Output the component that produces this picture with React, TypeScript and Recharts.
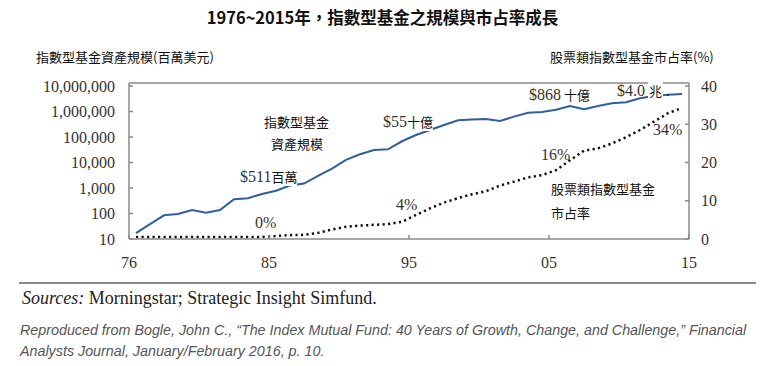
import { LineChart, Line, XAxis, YAxis, ReferenceLine } from "recharts";

const YEARS = [
  1976, 1977, 1978, 1979, 1980, 1981, 1982, 1983, 1984, 1985,
  1986, 1987, 1988, 1989, 1990, 1991, 1992, 1993, 1994, 1995,
  1996, 1997, 1998, 1999, 2000, 2001, 2002, 2003, 2004, 2005,
  2006, 2007, 2008, 2009, 2010, 2011, 2012, 2013, 2014, 2015,
];

// 指數型基金資產規模 (百萬美元)
const ASSETS = [
  17, 38, 85, 96, 137, 108, 137, 360, 400, 580,
  780, 1250, 1500, 3000, 5800, 12600, 21000, 31000, 33000, 68000,
  120000, 187000, 295000, 450000, 490000, 510000, 425000, 630000, 895000, 950000,
  1170000, 1650000, 1240000, 1650000, 2100000, 2300000, 3300000, 4050000, 4550000, 4900000,
];

// 股票類指數型基金市占率 (%)
const SHARE = [
  0.5, 0.5, 0.5, 0.5, 0.5, 0.5, 0.5, 0.5, 0.5, 0.5,
  0.8, 1.0, 1.1, 1.6, 2.5, 3.2, 3.5, 3.7, 3.9, 4.5,
  6.3, 8.0, 9.5, 10.7, 11.7, 12.5, 14.0, 15.0, 16.1, 16.7,
  18.0, 20.6, 23.1, 23.7, 25.0, 26.6, 28.5, 30.7, 32.9, 34.3,
];

const X_TICKS = [1975.5, 1985.5, 1995.5, 2005.5, 2015.5];
const X_TICK_LABELS = ["76", "85", "95", "05", "15"];
const LEFT_TICKS = [10, 100, 1000, 10000, 100000, 1000000, 10000000];
const RIGHT_TICKS = [0, 10, 20, 30, 40];

const BLUE = "#2f5f9f";
const FRAME = "#8a8a8a";
const SERIF = "'Liberation Serif', 'DejaVu Serif', serif";
const CJK = "'Noto Sans CJK TC', 'Noto Sans', sans-serif";
const TICK = { fill: "#333", fontSize: 16, fontFamily: SERIF };

const data = YEARS.map((year, i) => ({ year, assets: ASSETS[i], share: SHARE[i] }));

function Note({ x, y, children, bg = false, size = 13, font = CJK }: any) {
  return (
    <div
      style={{
        position: "absolute",
        left: x,
        top: y - 9,
        height: 18,
        lineHeight: "18px",
        fontSize: size,
        fontFamily: font,
        color: "#111",
        background: bg ? "#fff" : "transparent",
        whiteSpace: "nowrap",
      }}
    >
      {children}
    </div>
  );
}

const Serif = ({ children }: any) => (
  <span style={{ fontFamily: SERIF, fontSize: 16, color: "#333" }}>{children}</span>
);

export default function App() {
  return (
    <div
      style={{
        position: "absolute",
        left: 0,
        top: 0,
        width: 765,
        height: 366,
        background: "#fff",
        overflow: "hidden",
      }}
    >
      <div
        style={{
          position: "absolute",
          left: 0,
          width: 765,
          top: 6,
          textAlign: "center",
          fontFamily: CJK,
          fontWeight: 700,
          fontSize: 16.5,
          lineHeight: "22px",
          color: "#111",
        }}
      >
        1976~2015年，指數型基金之規模與市占率成長
      </div>

      <LineChart
        width={765}
        height={280}
        data={data}
        margin={{ top: 83, right: 0, bottom: 11, left: 0 }}
        style={{ position: "absolute", left: 0, top: 0 }}
      >
        <XAxis
          dataKey="year"
          type="number"
          domain={[1975.5, 2015.5]}
          ticks={X_TICKS}
          tickFormatter={(v: number) => X_TICK_LABELS[X_TICKS.indexOf(v)]}
          height={30}
          axisLine={{ stroke: FRAME, strokeWidth: 1.5 }}
          tickLine={{ stroke: FRAME, strokeWidth: 1.5 }}
          tickSize={-4}
          tickMargin={21.5}
          tick={TICK}
          interval={0}
        />
        <YAxis
          yAxisId="left"
          scale="log"
          type="number"
          domain={[10, 13100000]}
          allowDataOverflow
          ticks={LEFT_TICKS}
          tickFormatter={(v: number) => v.toLocaleString("en-US")}
          width={129}
          axisLine={{ stroke: FRAME, strokeWidth: 1.5 }}
          tickLine={{ stroke: FRAME, strokeWidth: 1.5 }}
          tickSize={-4}
          tickMargin={18}
          tick={TICK}
          interval={0}
        />
        <YAxis
          yAxisId="right"
          orientation="right"
          type="number"
          domain={[0, 40.8]}
          allowDataOverflow
          ticks={RIGHT_TICKS}
          width={76}
          axisLine={{ stroke: FRAME, strokeWidth: 1.5 }}
          tickLine={{ stroke: FRAME, strokeWidth: 1.5 }}
          tickSize={-4}
          tickMargin={16}
          tick={{ ...TICK, textAnchor: "start" }}
          interval={0}
        />
        <ReferenceLine yAxisId="right" y={40.8} stroke={FRAME} strokeWidth={1.5} />
        <Line
          yAxisId="right"
          dataKey="share"
          type="linear"
          stroke="#111"
          strokeWidth={2.5}
          strokeDasharray="2.2 3.3"
          dot={false}
          isAnimationActive={false}
        />
        <Line
          yAxisId="left"
          dataKey="assets"
          type="linear"
          stroke={BLUE}
          strokeWidth={2}
          dot={false}
          isAnimationActive={false}
        />
      </LineChart>

      <Note x={36} y={57}>指數型基金資產規模(百萬美元)</Note>
      <Note x={550} y={57}>股票類指數型基金市占率(%)</Note>

      <Note x={264} y={122}>指數型基金</Note>
      <Note x={271} y={144}>資產規模</Note>
      <Note x={551} y={189}>股票類指數型基金</Note>
      <Note x={551} y={213}>市占率</Note>

      <Note x={240} y={177} bg>
        <Serif>$511</Serif>百萬
      </Note>
      <Note x={383} y={122} bg>
        <Serif>$55</Serif>十億
      </Note>
      <Note x={529} y={95}>
        <Serif>$868</Serif> 十億
      </Note>
      <Note x={617} y={91}>
        <Serif>$4.0</Serif>
        <span style={{ background: "#fff", marginLeft: 3, padding: "0 1px" }}>兆</span>
        <span> .</span>
      </Note>

      <Note x={255} y={223} font={SERIF} size={16}>
        <Serif>0%</Serif>
      </Note>
      <Note x={396} y={205} font={SERIF} size={16}>
        <Serif>4%</Serif>
      </Note>
      <Note x={541} y={155} font={SERIF} size={16}>
        <Serif>16%</Serif>
      </Note>
      <Note x={653} y={130} font={SERIF} size={16}>
        <Serif>34%</Serif>
      </Note>

      <div
        style={{
          position: "absolute",
          left: 19,
          top: 282,
          width: 737,
          height: 2,
          background: "#8a8a8a",
        }}
      />
      <div
        style={{
          position: "absolute",
          left: 22,
          top: 287,
          fontFamily: SERIF,
          fontSize: 18,
          lineHeight: "22px",
          color: "#222",
          whiteSpace: "nowrap",
        }}
      >
        <i>Sources:</i> Morningstar; Strategic Insight Simfund.
      </div>
      <div
        style={{
          position: "absolute",
          left: 20,
          top: 320,
          fontFamily: "'Liberation Sans', Arial, sans-serif",
          fontStyle: "italic",
          fontSize: 14.3,
          lineHeight: "21px",
          color: "#555",
          whiteSpace: "nowrap",
        }}
      >
        Reproduced from Bogle, John C., “The Index Mutual Fund: 40 Years of Growth, Change, and Challenge,” Financial
        <br />
        Analysts Journal, January/February 2016, p. 10.
      </div>
    </div>
  );
}
